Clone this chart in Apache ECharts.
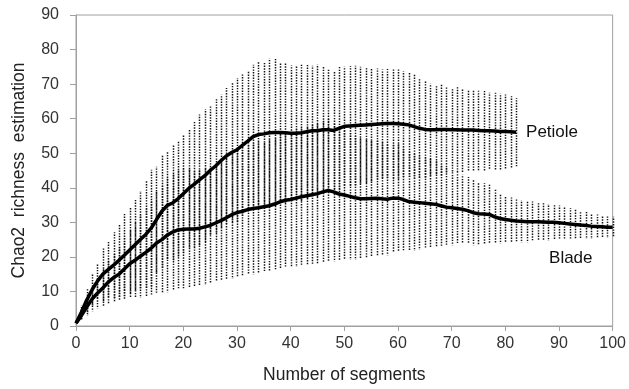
<!DOCTYPE html>
<html>
<head>
    <meta charset="utf-8">
    <title>Chao2 richness estimation</title>
    <script src="https://cdn.jsdelivr.net/npm/echarts@6/dist/echarts.min.js"></script>
    <style>
        html, body { margin: 0; padding: 0; background: #fff; }
        #chart { width: 629px; height: 389px; }
    </style>
</head>
<body>
<div id="chart"></div>
<script>
    // mean curves and standard deviations, one value per segment (0..100 / 0..82)
    var bladeMean = [0.8, 3, 5.5, 7.8, 9.5, 11, 12.7, 14, 15, 16.5,
        18, 19, 20.2, 21.3, 22.5, 24, 25, 26.3, 27.2, 27.8,
        28, 28.1, 28.1, 28.3, 28.7, 29.1, 29.8, 30.5, 31.3, 32.2,
        32.8, 33.2, 33.7, 34, 34.2, 34.5, 34.8, 35.3, 35.9, 36.4,
        36.6, 37, 37.4, 37.7, 38, 38.3, 38.8, 39.2, 38.8, 38.2,
        37.9, 37.5, 37.1, 36.8, 36.8, 36.9, 37, 36.8, 36.7, 37,
        37, 36.6, 36, 35.8, 35.7, 35.5, 35.4, 35.2, 34.8, 34.4,
        34.2, 34, 33.8, 33.4, 32.8, 32.5, 32.4, 32.3, 31.6, 31.1,
        30.8, 30.6, 30.4, 30.3, 30.2, 30.2, 30.2, 30.1, 30, 30,
        29.9, 29.7, 29.5, 29.4, 29.2, 29.1, 28.9, 28.8, 28.7, 28.6, 28.6];
    var bladeSd = [0, 1.5, 2.5, 3.5, 4.4, 5.5, 6.5, 7.2, 7.8, 9,
        10, 11, 12, 13, 13.8, 14.8, 15.6, 16.5, 17, 17.3,
        17.5, 17.2, 16.9, 16.8, 16.8, 16.9, 17, 17.5, 18, 18.5,
        18.8, 18.9, 18.9, 19, 19.1, 19, 19.1, 19.3, 19.5, 19.6,
        19.7, 19.9, 20.1, 20.2, 20.4, 20.5, 20.6, 20.7, 20.1, 19.4,
        18.8, 18.3, 17.9, 17.5, 17.3, 17, 16.9, 16.5, 16.2, 15.8,
        15.6, 15.1, 14.4, 14, 13.6, 13.2, 12.9, 12.5, 12, 11.3,
        10.8, 10.4, 10, 9.7, 9.4, 9.2, 8.9, 8.6, 7.8, 7.2,
        6.8, 6.6, 6.3, 6.1, 6, 5.8, 5.6, 5.5, 5.3, 5.2,
        5, 4.8, 4.6, 4.4, 4.1, 3.9, 3.7, 3.5, 3.3, 3.1, 3];
    var petioleMean = [0.8, 4, 7.5, 10.5, 13, 15, 16.3, 17.6, 19, 20.5,
        22, 23.5, 25, 26.5, 28.3, 30.8, 33.2, 34.9, 35.6, 36.8,
        38.3, 39.8, 41, 42.3, 43.5, 45, 46.3, 47.8, 49.2, 50.2,
        51, 52.3, 53.5, 54.8, 55.4, 55.6, 55.9, 56, 56, 55.9,
        55.8, 55.8, 55.9, 56.2, 56.5, 56.5, 56.8, 56.8, 56.6, 57.2,
        57.8, 57.9, 58, 58.1, 58.2, 58.3, 58.4, 58.5, 58.6, 58.6,
        58.5, 58.4, 58.2, 57.7, 57.2, 56.9, 56.8, 56.8, 56.9, 56.9,
        56.8, 56.8, 56.7, 56.7, 56.7, 56.6, 56.5, 56.5, 56.4, 56.3,
        56.3, 56.2, 56.1];
    var petioleSd = [0, 2, 3.5, 4.6, 5, 7.8, 8, 9.5, 10.5, 11.9,
        12.5, 13.2, 14.1, 15.5, 16.9, 15.3, 16.4, 15.5, 16.6, 16.7,
        17.2, 17.1, 18.3, 18.9, 19.2, 18.6, 19.3, 19.2, 19.7, 20.2,
        20.8, 20.5, 20.2, 20.8, 20.9, 20.5, 21.5, 21.3, 20.3, 20.2,
        19.6, 19.4, 19.7, 19.3, 18.8, 19.2, 18.2, 17.4, 17.1, 17.8,
        17.2, 17.3, 17.3, 16.9, 16.8, 16.4, 16.1, 15.7, 15.8, 16,
        15.9, 15.3, 15.1, 15.1, 14.3, 13.9, 13.3, 12.8, 13.3, 12.5,
        12.1, 12.3, 12.1, 11.7, 11.7, 11.5, 11.5, 11, 11.1, 11,
        10.7, 10.3, 9.9];
    var xTicks = [0, 10, 20, 30, 40, 50, 60, 70, 80, 90, 100];
    var yTicks = [0, 10, 20, 30, 40, 50, 60, 70, 80, 90];

    var font = 'Liberation Sans';
    var grey = '#a0a0a0';

    function toPoints(arr) {
        return arr.map(function (v, i) { return [i, v]; });
    }

    // dotted vertical error bar at every segment
    function errorBars(name, mean, sd, dashOffset) {
        var rows = [];
        mean.forEach(function (m, i) {
            if (sd[i] > 0) rows.push([i, m - sd[i], m + sd[i]]);
        });
        return {
            type: 'custom',
            name: name + ' sd',
            silent: true,
            z: 1,
            data: rows,
            encode: { x: 0, y: [1, 2] },
            renderItem: function (params, api) {
                var lo = api.coord([api.value(0), api.value(1)]);
                var hi = api.coord([api.value(0), api.value(2)]);
                var x = Math.round(lo[0]) + 0.5;
                return {
                    type: 'line',
                    shape: { x1: x, y1: lo[1], x2: x, y2: hi[1] },
                    style: {
                        stroke: '#111',
                        lineWidth: 1.5,
                        lineDash: [1.4, 1.3],
                        lineDashOffset: dashOffset
                    }
                };
            }
        };
    }

    var chart = echarts.init(document.getElementById('chart'));
    chart.setOption({
        animation: false,
        grid: {
            left: 76, right: 16, top: 15, bottom: 62,
            show: true, borderColor: grey, borderWidth: 1
        },
        xAxis: {
            type: 'value', min: 0, max: 100, interval: 10,
            name: 'Number of segments', nameLocation: 'middle', nameGap: 40,
            nameTextStyle: { fontFamily: font, fontSize: 17.5, color: '#222' },
            axisLine: { lineStyle: { color: grey } },
            axisTick: { show: true, length: 5, lineStyle: { color: grey } },
            axisLabel: {
                fontFamily: font, fontSize: 16, color: '#333', margin: 10,
                formatter: function (v) { return xTicks.indexOf(v) >= 0 ? String(v) : ''; }
            },
            splitLine: { show: false }
        },
        yAxis: {
            type: 'value', min: 0, max: 90, interval: 10,
            name: 'Chao2  richness  estimation', nameLocation: 'middle', nameGap: 48,
            nameTextStyle: { fontFamily: font, fontSize: 17.5, color: '#222' },
            axisLine: { show: true, lineStyle: { color: grey } },
            axisTick: { show: true, length: 6, lineStyle: { color: grey } },
            axisLabel: {
                fontFamily: font, fontSize: 16, color: '#333', margin: 17,
                formatter: function (v) { return yTicks.indexOf(v) >= 0 ? String(v) : ''; }
            },
            splitLine: { show: false }
        },
        series: [
            errorBars('Blade', bladeMean, bladeSd, 1.35),
            errorBars('Petiole', petioleMean, petioleSd, 0),
            {
                type: 'line', name: 'Blade', z: 3,
                data: toPoints(bladeMean),
                showSymbol: false,
                lineStyle: { color: '#000', width: 3.5 },
                markPoint: {
                    symbolSize: 0,
                    data: [{ coord: [92.2, 19.7] }],
                    label: {
                        show: true, position: 'inside', formatter: 'Blade',
                        fontFamily: font, fontSize: 17, color: '#111'
                    }
                }
            },
            {
                type: 'line', name: 'Petiole', z: 3,
                data: toPoints(petioleMean),
                showSymbol: false,
                lineStyle: { color: '#000', width: 3.5 },
                endLabel: {
                    show: true, formatter: 'Petiole', distance: 10,
                    fontFamily: font, fontSize: 17, color: '#111'
                }
            }
        ]
    });
</script>
</body>
</html>
